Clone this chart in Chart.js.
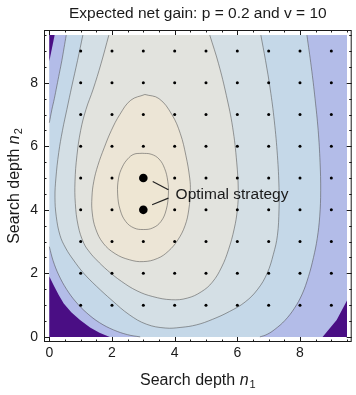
<!DOCTYPE html>
<html>
<head>
<meta charset="utf-8">
<script src="https://cdn.jsdelivr.net/npm/chart.js@4/dist/chart.umd.min.js"></script>
<style>
  html, body { margin: 0; padding: 0; background: #fff; }
  canvas { display: block; }
</style>
</head>
<body>
<canvas id="gain-chart" width="356" height="395"></canvas>
<script>
const titleText = 'Expected net gain: p = 0.2 and v = 10';
const xTitle = {text: 'Search depth ', sym: 'n', sub: '1'};
const yTitle = {text: 'Search depth ', sym: 'n', sub: '2'};
const labelText = 'Optimal strategy';
const labelAt = [4.03, 4.33];

const xTickValues = [0, 2, 4, 6, 8];
const yTickValues = [0, 2, 4, 6, 8];
const domain = [0, 9.5];

// sampled strategies (dots) and the two optimal ones
const gridN1 = [1, 2, 3, 4, 5, 6, 7, 8, 9];
const gridN2 = [1, 2, 3, 4, 5, 6, 7, 8, 9];
const optimalN1 = [3, 3];
const optimalN2 = [4, 5];

// contour lines, points are [n1, n2]
const lineA1 = [[0.54,9.5],[0.47,9.1],[0.4,8.7],[0.32,8.3],[0.24,7.9],[0.16,7.5],[0.08,7.15],[0,6.74]];
const lineA2 = [[0,2.84],[0.12,2.4],[0.3,1.95],[0.55,1.5],[0.85,1.1],[1.2,0.75],[1.6,0.45],[2.05,0.22],[2.5,0.07],[2.9,0]];
const lineA3 = [[8.22,9.5],[8.36,8.5],[8.48,7.5],[8.58,6.5],[8.64,5.5],[8.66,4.6],[8.63,3.8],[8.55,3.1],[8.43,2.5],[8.27,1.9],[8.07,1.35],[7.82,0.9],[7.52,0.52],[7.2,0.24],[6.95,0.08],[6.72,0]];
const lineB = [[1.07,9.5],[0.9,8.7],[0.72,7.9],[0.56,7.16],[0.42,6.5],[0.3,5.8],[0.21,5.0],[0.18,4.4],[0.22,3.8],[0.34,3.2],[0.52,2.8],[0.77,2.42],[1.1,2.0],[1.5,1.6],[2.0,1.15],[2.55,0.7],[3.1,0.4],[3.7,0.28],[4.2,0.3],[4.7,0.38],[5.2,0.55],[5.75,0.8],[6.25,1.1],[6.65,1.5],[6.95,2.0],[7.15,2.6],[7.28,3.2],[7.33,4.0],[7.33,4.7],[7.28,5.7],[7.18,6.8],[7.05,7.8],[6.9,8.7],[6.75,9.5]];
const lineC = [[1.9,9.5],[1.65,8.6],[1.4,7.8],[1.17,7.16],[1.0,6.5],[0.88,5.7],[0.82,4.9],[0.83,4.2],[0.92,3.5],[1.1,2.95],[1.3,2.65],[1.51,2.42],[1.85,2.1],[2.3,1.75],[2.8,1.45],[3.3,1.27],[3.9,1.17],[4.4,1.22],[4.85,1.42],[5.2,1.72],[5.5,2.2],[5.72,2.75],[5.9,3.4],[6.0,4.0],[6.03,4.6],[5.98,5.5],[5.85,6.6],[5.65,7.6],[5.4,8.6],[5.12,9.5]];
const lineE = [[3.05,7.63],[3.5,7.5],[3.91,7.0],[4.18,6.4],[4.36,5.7],[4.48,5.0],[4.5,4.6],[4.45,4.0],[4.33,3.5],[4.1,3.05],[3.8,2.7],[3.45,2.47],[3.0,2.37],[2.55,2.43],[2.1,2.62],[1.72,2.95],[1.48,3.4],[1.37,3.9],[1.36,4.4],[1.42,4.9],[1.55,5.4],[1.75,5.95],[1.98,6.5],[2.25,7.0],[2.6,7.45],[3.05,7.63]];
const lineF = [[2.96,5.78],[3.25,5.75],[3.5,5.6],[3.68,5.3],[3.78,4.9],[3.8,4.5],[3.73,4.0],[3.56,3.63],[3.3,3.43],[3.0,3.38],[2.7,3.43],[2.44,3.63],[2.26,4.0],[2.18,4.5],[2.21,5.0],[2.33,5.35],[2.5,5.6],[2.7,5.75],[2.96,5.78]];

// lowest level corners (no contour line on them)
const purpleTL = [[0,8.68],[0,9.5],[0.17,9.5]];
const purpleBL = [[0,0],[0,1.9],[0.15,1.6],[0.3,1.32],[0.46,1.05],[0.7,0.78],[0.98,0.53],[1.3,0.3],[1.6,0.13],[1.93,0]];
const purpleBR = [[8.72,0],[9.17,0.53],[9.5,1.15],[9.5,0]];

// label leaders
const linkUpper = [[3.3,4.89],[3.8,4.63]];
const linkLower = [[3.28,4.16],[3.8,4.37]];

const font = 'Liberation Sans, Arial, Helvetica, sans-serif';
const ink = '#1a1a1a';
const lineColor = 'rgba(80,80,80,0.55)';
const colPurple = '#4a0e84';
const colLavender = '#b3bce8';
const colLightBlue = '#c5d8e8';
const colBlueGray = '#d4dfe5';
const colLightGray = '#e2e3de';
const colCream = '#ece5d6';
const colInner = '#eee6d3';

const toXY = pts => pts.map(([x, y]) => ({x, y}));

function fillSet(pts, color, order) {
  return {data: toXY(pts), backgroundColor: color, borderWidth: 0, pointRadius: 0,
          fill: 'shape', tension: 0, order, clip: false};
}
function contourSet(pts, order, fillColor) {
  return {data: toXY(pts), borderColor: lineColor, borderWidth: 1, pointRadius: 0,
          tension: 0.4, order, clip: false,
          fill: fillColor ? 'shape' : false, backgroundColor: fillColor || 'transparent'};
}

const domainRect = [[domain[0],domain[0]],[domain[0],domain[1]],[domain[1],domain[1]],[domain[1],domain[0]]];
const dots = [];
gridN1.forEach(a => gridN2.forEach(b => dots.push([a, b])));
const optimal = optimalN1.map((a, i) => [a, optimalN2[i]]);

const frameTicks = {
  id: 'frameTicks',
  afterDatasetsDraw(chart) {
    const {ctx, chartArea: a, scales: {x, y}} = chart;
    ctx.save();
    ctx.strokeStyle = ink;
    ctx.lineWidth = 1;
    ctx.strokeRect(a.left + 0.5, a.top + 0.5, a.right - a.left - 1, a.bottom - a.top - 1);
    ctx.beginPath();
    for (let v = 0; v <= domain[1]; v += 0.5) {
      const lenX = xTickValues.includes(v) ? 5 : 2.5;
      const lenY = yTickValues.includes(v) ? 5 : 2.5;
      const px = Math.round(x.getPixelForValue(v)) + 0.5;
      ctx.moveTo(px, a.bottom); ctx.lineTo(px, a.bottom - lenX);
      ctx.moveTo(px, a.top); ctx.lineTo(px, a.top + lenX);
      const py = Math.round(y.getPixelForValue(v)) + 0.5;
      ctx.moveTo(a.left, py); ctx.lineTo(a.left + lenY, py);
      ctx.moveTo(a.right, py); ctx.lineTo(a.right - lenY, py);
    }
    ctx.stroke();
    ctx.restore();
  }
};

function drawAxisTitle(ctx, t, cx, baseY) {
  ctx.font = '16px ' + font;
  const w1 = ctx.measureText(t.text).width;
  ctx.font = 'italic 16px ' + font;
  const w2 = ctx.measureText(t.sym).width;
  ctx.font = '11px ' + font;
  const w3 = ctx.measureText(t.sub).width;
  let x0 = cx - (w1 + w2 + w3 + 1) / 2;
  ctx.fillStyle = ink;
  ctx.textBaseline = 'alphabetic';
  ctx.textAlign = 'left';
  ctx.font = '16px ' + font;
  ctx.fillText(t.text, x0, baseY);
  ctx.font = 'italic 16px ' + font;
  ctx.fillText(t.sym, x0 + w1, baseY);
  ctx.font = '11px ' + font;
  ctx.fillText(t.sub, x0 + w1 + w2 + 1, baseY + 3);
}

const texts = {
  id: 'texts',
  afterDraw(chart) {
    const {ctx, chartArea: a, scales: {x, y}} = chart;
    ctx.save();
    drawAxisTitle(ctx, xTitle, (a.left + a.right) / 2, 385);
    ctx.translate(18.5, (a.top + a.bottom) / 2);
    ctx.rotate(-Math.PI / 2);
    drawAxisTitle(ctx, yTitle, 0, 0);
    ctx.restore();

    ctx.save();
    ctx.font = '15.5px ' + font;
    ctx.fillStyle = ink;
    ctx.textBaseline = 'alphabetic';
    ctx.fillText(labelText, x.getPixelForValue(labelAt[0]), y.getPixelForValue(labelAt[1]));
    ctx.restore();
  }
};

new Chart(document.getElementById('gain-chart'), {
  type: 'line',
  data: {
    datasets: [
      fillSet(domainRect, colLightBlue, 30),
      fillSet([...lineA1, [0, 9.5]], colLavender, 29),
      fillSet([...lineA2, [0, 0]], colLavender, 29),
      fillSet([...lineA3, [9.5, 0], [9.5, 9.5]], colLavender, 29),
      fillSet(purpleTL, colPurple, 28),
      fillSet(purpleBL, colPurple, 28),
      fillSet(purpleBR, colPurple, 28),
      contourSet(lineA1, 27),
      contourSet(lineA2, 27),
      contourSet(lineA3, 27),
      contourSet(lineB, 26, colBlueGray),
      contourSet(lineC, 25, colLightGray),
      contourSet(lineE, 24, colCream),
      contourSet(lineF, 23, colInner),
      {data: toXY(linkUpper), borderColor: '#222', borderWidth: 1.2, pointRadius: 0, order: 3},
      {data: toXY(linkLower), borderColor: '#222', borderWidth: 1.2, pointRadius: 0, order: 3},
      {data: toXY(dots), showLine: false, pointRadius: 1.5, pointBorderWidth: 0,
       pointBackgroundColor: '#000', order: 2},
      {data: toXY(optimal), showLine: false, pointRadius: 4.3, pointBorderWidth: 0,
       pointBackgroundColor: '#000', order: 1}
    ]
  },
  options: {
    responsive: false,
    animation: false,
    events: [],
    devicePixelRatio: 1,
    layout: {padding: {right: 1}},
    plugins: {
      legend: {display: false},
      tooltip: {enabled: false},
      title: {
        display: true,
        fullSize: false,
        text: titleText,
        color: ink,
        font: {family: font, size: 15.5, weight: 'normal'},
        padding: {top: 4, bottom: 7.4}
      }
    },
    scales: {
      x: {
        type: 'linear',
        min: -0.17,
        max: 9.65,
        grid: {display: false, drawTicks: false},
        border: {display: false},
        ticks: {color: ink, font: {family: font, size: 14}, padding: 3, maxRotation: 0, autoSkip: false},
        afterBuildTicks: s => { s.ticks = xTickValues.map(v => ({value: v})); },
        afterFit: s => { s.height = 53; }
      },
      y: {
        type: 'linear',
        min: -0.16,
        max: 9.66,
        grid: {display: false, drawTicks: false},
        border: {display: false},
        ticks: {color: ink, font: {family: font, size: 14}, padding: 6, autoSkip: false},
        afterBuildTicks: s => { s.ticks = yTickValues.map(v => ({value: v})); },
        afterFit: s => { s.width = 44; }
      }
    }
  },
  plugins: [frameTicks, texts]
});
</script>
</body>
</html>
